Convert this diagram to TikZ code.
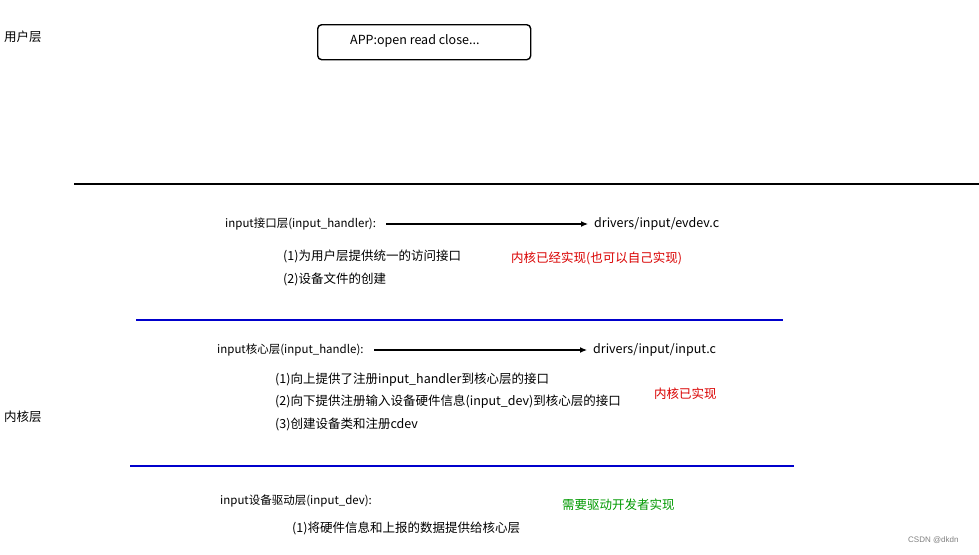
\documentclass[tikz,border=0pt]{standalone}
\usepackage{fontspec}
\setmainfont{Liberation Sans}
\newfontfamily\cjk{Noto Sans CJK SC}
\usetikzlibrary{arrows.meta}
\begin{document}
\begin{tikzpicture}[x=1pt,y=-1pt,
  txt/.style={anchor=west,inner sep=0pt,font=\cjk\fontsize{12.5}{14}\selectfont},
  head/.style={anchor=west,inner sep=0pt,font=\cjk\fontsize{11.5}{14}\selectfont},
  arr/.style={-{Latex[length=7pt,width=6pt]},line width=1.2pt,shorten >=6pt}]
\useasboundingbox (0,0) rectangle (979,554);
\node[txt] (u) at (4,37) {用户层};
\node[draw,line width=1.4pt,rounded corners=4pt,minimum width=213pt,minimum height=35pt,anchor=north west,inner sep=0pt] (app) at (317,24) {};
\node[txt] (appt) at (350,41) {APP:open read close...};
\draw[line width=1.4pt] (74,184) coordinate (l1a) -- (979,184) coordinate (l1b);
\node[head] (h1) at (225,224) {input接口层(input\_handler):};
\node[txt] (h1r) at (594,224) {drivers/input/evdev.c};
\draw[arr] (386,224) coordinate (a1) -- (h1r.west);
\node[txt] (h1a) at (283,256) {(1)为用户层提供统一的访问接口};
\node[txt] (h1b) at (283,279) {(2)设备文件的创建};
\node[txt,text=red!85!black] (h1n) at (511,258) {内核已经实现(也可以自己实现)};
\draw[blue!80!black,line width=1.4pt] (136,320) coordinate (l2a) -- (783,320) coordinate (l2b);
\node[head] (h2) at (217,350) {input核心层(input\_handle):};
\node[txt] (h2r) at (593,350) {drivers/input/input.c};
\draw[arr] (374,350) coordinate (a2) -- (h2r.west);
\node[txt] (h2a) at (275,380) {(1)向上提供了注册input\_handler到核心层的接口};
\node[txt] (h2b) at (275,402) {(2)向下提供注册输入设备硬件信息(input\_dev)到核心层的接口};
\node[txt] (h2c) at (275,424) {(3)创建设备类和注册cdev};
\node[txt,text=red!85!black] (h2n) at (654,394) {内核已实现};
\node[txt] (k) at (4,417) {内核层};
\draw[blue!80!black,line width=1.4pt] (130,466) coordinate (l3a) -- (794,466) coordinate (l3b);
\node[head] (h3) at (220,501) {input设备驱动层(input\_dev):};
\node[txt,text=green!60!black] (h3n) at (562,505) {需要驱动开发者实现};
\node[txt] (h3a) at (292,528) {(1)将硬件信息和上报的数据提供给核心层};
\node[anchor=west,inner sep=0pt,font=\fontsize{8}{9}\selectfont,text=gray] (c) at (908,540) {CSDN @dkdn};
\end{tikzpicture}
\end{document}
